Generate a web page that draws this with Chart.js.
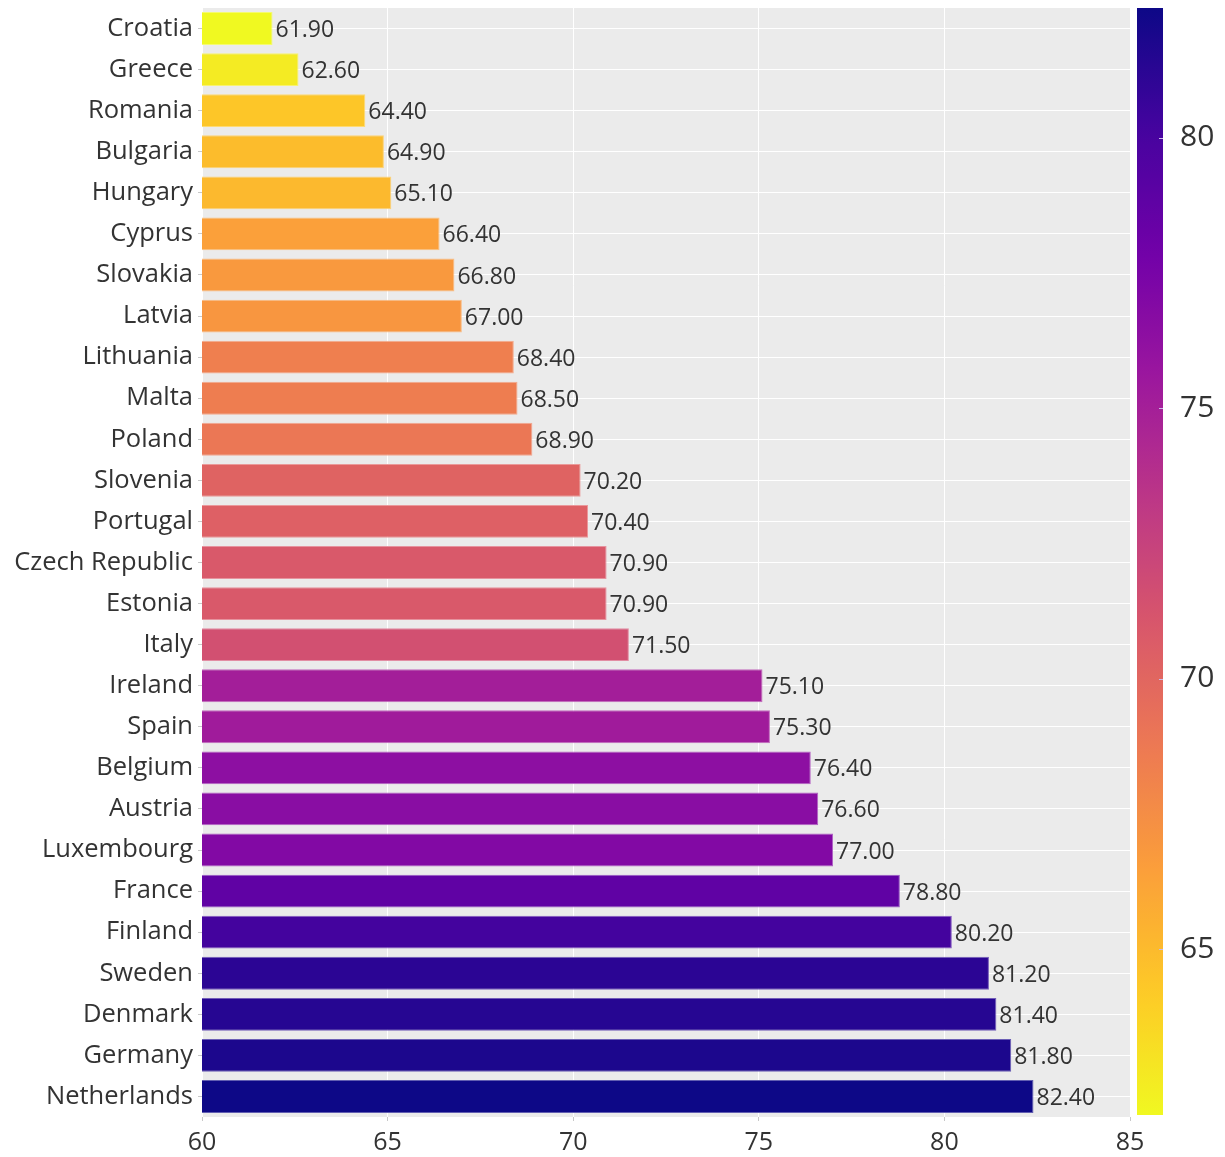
<!DOCTYPE html>
<html>
<head>
<meta charset="utf-8">
<script src="https://cdn.jsdelivr.net/npm/chart.js@4.4.1/dist/chart.umd.min.js"></script>
<style>
  html, body { margin: 0; padding: 0; background: #fff; }
  #wrap { width: 1225px; height: 1157px; }
</style>
</head>
<body>
<div id="wrap"><canvas id="chart"></canvas></div>
<script>
const countries = ['Croatia', 'Greece', 'Romania', 'Bulgaria', 'Hungary', 'Cyprus', 'Slovakia', 'Latvia',
  'Lithuania', 'Malta', 'Poland', 'Slovenia', 'Portugal', 'Czech Republic', 'Estonia', 'Italy',
  'Ireland', 'Spain', 'Belgium', 'Austria', 'Luxembourg', 'France', 'Finland', 'Sweden',
  'Denmark', 'Germany', 'Netherlands']
const scores = [61.9, 62.6, 64.4, 64.9, 65.1, 66.4, 66.8, 67.0,
  68.4, 68.5, 68.9, 70.2, 70.4, 70.9, 70.9, 71.5,
  75.1, 75.3, 76.4, 76.6, 77.0, 78.8, 80.2, 81.2,
  81.4, 81.8, 82.4]
const xTicks = [60, 65, 70, 75, 80, 85]
const colorbarTicks = [65, 70, 75, 80]

// plasma, high values dark
const plasma = ['#0d0887', '#46039f', '#7201a8', '#9c179e', '#bd3786',
  '#d8576b', '#ed7953', '#fb9f3a', '#fdca26', '#f0f921']

const cmin = Math.min(...scores)
const cmax = Math.max(...scores)
const textColor = '#333333'
const fontFamily = '"Open Sans", sans-serif'

function hexToRgb(h) {
  return [1, 3, 5].map((i) => parseInt(h.slice(i, i + 2), 16))
}

function colorAt(v) {
  // t = 0 -> yellow end, t = 1 -> dark blue end
  const t = (v - cmin) / (cmax - cmin)
  const pos = (1 - t) * (plasma.length - 1)
  const i = Math.min(Math.floor(pos), plasma.length - 2)
  const f = pos - i
  const a = hexToRgb(plasma[i])
  const b = hexToRgb(plasma[i + 1])
  return a.map((c, k) => Math.round(c + (b[k] - c) * f))
}

const barColors = scores.map((v) => `rgb(${colorAt(v).join(',')})`)
const edgeColors = scores.map((v) => {
  const c = colorAt(v).map((x) => Math.round(x + (255 - x) * 0.35))
  return `rgb(${c.join(',')})`
})

// keep the plot box fixed, no extra room for edge labels
function noPad(scale) {
  scale.paddingTop = 0
  scale.paddingBottom = 0
  scale.paddingLeft = 0
  scale.paddingRight = 0
}

const plotBackground = {
  id: 'plotBackground',
  beforeDraw(chart) {
    const { ctx, chartArea: a } = chart
    ctx.save()
    ctx.fillStyle = '#ebebeb'
    ctx.fillRect(a.left, a.top, a.right - a.left, a.bottom - a.top)
    ctx.restore()
  }
}

const valueLabels = {
  id: 'valueLabels',
  afterDatasetsDraw(chart) {
    const { ctx } = chart
    const meta = chart.getDatasetMeta(0)
    ctx.save()
    ctx.font = `23px ${fontFamily}`
    ctx.fillStyle = textColor
    ctx.textAlign = 'left'
    ctx.textBaseline = 'middle'
    meta.data.forEach((bar, i) => {
      ctx.fillText(scores[i].toFixed(2), bar.x + 3, bar.y + 2)
    })
    ctx.restore()
  }
}

const colorbar = {
  id: 'colorbar',
  afterDraw(chart) {
    const { ctx } = chart
    const cb = chart.scales.cb
    const x0 = chart.chartArea.right + 7
    const w = 26
    const grad = ctx.createLinearGradient(0, cb.getPixelForValue(cmin), 0, cb.getPixelForValue(cmax))
    for (let k = 0; k <= 40; k++) {
      const v = cmin + (cmax - cmin) * k / 40
      grad.addColorStop(k / 40, `rgb(${colorAt(v).join(',')})`)
    }
    ctx.save()
    ctx.fillStyle = grad
    ctx.fillRect(x0, cb.top, w, cb.bottom - cb.top - 2)
    ctx.strokeStyle = '#c9b9e6'
    ctx.lineWidth = 1
    colorbarTicks.forEach((t) => {
      const y = Math.round(cb.getPixelForValue(t)) + 0.5
      ctx.beginPath()
      ctx.moveTo(x0 + w - 4, y)
      ctx.lineTo(x0 + w, y)
      ctx.stroke()
    })
    ctx.restore()
  }
}

new Chart(document.getElementById('chart'), {
  type: 'bar',
  data: {
    labels: countries,
    datasets: [{
      data: scores,
      backgroundColor: barColors,
      borderColor: edgeColors,
      borderWidth: 1,
      borderSkipped: false,
      barPercentage: 0.8,
      categoryPercentage: 1.0
    }]
  },
  options: {
    indexAxis: 'y',
    responsive: true,
    maintainAspectRatio: false,
    animation: false,
    layout: { padding: { top: 8, left: 0, right: 0, bottom: 0 } },
    plugins: {
      legend: { display: false },
      tooltip: { enabled: false }
    },
    scales: {
      x: {
        type: 'linear',
        min: 60,
        max: 85,
        offset: false,
        afterBuildTicks: (scale) => { scale.ticks = xTicks.map((v) => ({ value: v })) },
        afterFit: (scale) => { scale.height = 40; noPad(scale) },
        grid: { color: '#ffffff', lineWidth: 1, tickColor: '#c8c8c8', tickLength: 4 },
        border: { display: false },
        ticks: { color: textColor, font: { family: fontFamily, size: 25 }, padding: 7, maxRotation: 0 }
      },
      y: {
        type: 'category',
        afterFit: (scale) => { scale.width = 202; noPad(scale) },
        grid: { color: '#ffffff', lineWidth: 1, offset: false, tickColor: '#c8c8c8', tickLength: 4 },
        border: { display: false },
        ticks: { color: textColor, font: { family: fontFamily, size: 25.5 }, padding: 5 }
      },
      cb: {
        type: 'linear',
        position: 'right',
        min: cmin,
        max: cmax,
        offset: false,
        afterBuildTicks: (scale) => { scale.ticks = colorbarTicks.map((v) => ({ value: v })) },
        afterFit: (scale) => { scale.width = 95; noPad(scale) },
        grid: { display: false },
        border: { display: false },
        ticks: { color: textColor, font: { family: fontFamily, size: 30 }, padding: 42 }
      }
    }
  },
  plugins: [plotBackground, valueLabels, colorbar]
})
</script>
</body>
</html>
